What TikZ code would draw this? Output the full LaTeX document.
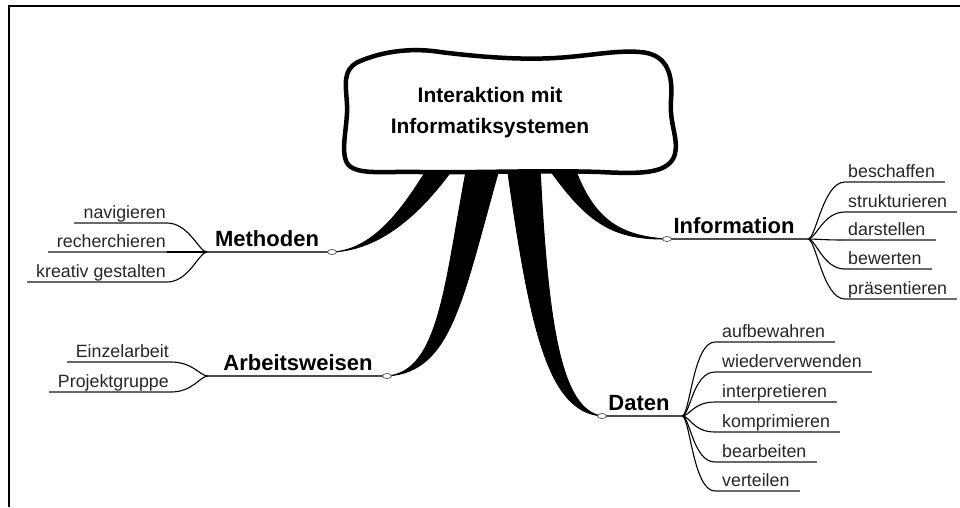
\documentclass[tikz,border=0pt]{standalone}
\usepackage{fontspec}
\setmainfont{Liberation Sans}
\usepackage{tikz}
\usetikzlibrary{calc,shapes.geometric}
\definecolor{lineGray}{RGB}{75,75,75}
\definecolor{underGray}{RGB}{105,105,105}
\tikzset{
  knob/.style={ellipse,draw=lineGray,fill=white,line width=0.7pt,inner sep=0pt,minimum width=9pt,minimum height=5pt},
  branch/.style={lineGray,line width=1.6pt},
  twig/.style={black,line width=1.1pt},
  underl/.style={underGray,line width=1.7pt},
  head/.style={anchor=base,inner sep=0pt,font=\fontsize{22}{26}\selectfont\bfseries},
  leaf/.style={inner sep=0pt,text=black!85,font=\fontsize{17.8}{21}\selectfont}
}

\begin{document}
\begin{tikzpicture}[x=1pt,y=-1pt]
  \useasboundingbox (0,0) rectangle (960,507);
  \draw[line width=1.8pt] (960,6) -- (9,6) -- (9,507);

  \coordinate (mK) at (332,252);
  \coordinate (aK) at (387,376);
  \coordinate (iK) at (667,239);
  \coordinate (dK) at (602,416);
  \coordinate (mJ) at (207,252);
  \coordinate (aJ) at (208,376);
  \coordinate (iJ) at (808,239);
  \coordinate (dJ) at (682,416);

  % thick spokes, tops hidden under the cloud
  \filldraw[line width=0.9pt] (429,166) .. controls (405,205) and (375,250) .. (mK)
    .. controls (380,250) and (420,215) .. (455,166) -- cycle;
  \filldraw[line width=0.9pt] (467,166) .. controls (445,280) and (440,372) .. (aK)
    .. controls (452,372) and (462,300) .. (500,166) -- cycle;
  \filldraw[line width=0.9pt] (507,166) .. controls (530,330) and (548,412) .. (dK)
    .. controls (562,410) and (548,330) .. (540,166) -- cycle;
  \filldraw[line width=0.9pt] (547,166) .. controls (585,220) and (610,240) .. (iK)
    .. controls (615,236) and (592,215) .. (574,166) -- cycle;

  % cloud
  \draw[fill=white,line width=4.5pt,line join=round] (358,62)
    .. controls (385,50) and (415,48) .. (440,52)
    .. controls (480,57) and (520,60) .. (555,58)
    .. controls (590,56) and (615,50) .. (640,52)
    .. controls (668,54) and (673,75) .. (671,100)
    .. controls (669,125) and (680,140) .. (674,157)
    .. controls (666,174) and (640,174) .. (600,172)
    .. controls (540,170) and (470,173) .. (420,172)
    .. controls (385,171) and (355,176) .. (347,163)
    .. controls (340,150) and (348,125) .. (347,105)
    .. controls (346,85) and (342,70) .. (358,62) -- cycle;
  \node[align=center,inner sep=0pt,font=\fontsize{21}{31}\selectfont\bfseries] (root) at (490,113)
    {Interaktion mit\\Informatiksystemen};

  \draw[branch] (mK) -- (mJ);
  \draw[branch] (aK) -- (aJ);
  \draw[branch] (iK) -- (iJ);
  \draw[branch] (dK) -- (dJ);
  \node[knob] (mKn) at (mK) {};
  \node[knob] (aKn) at (aK) {};
  \node[knob] (iKn) at (iK) {};
  \node[knob] (dKn) at (dK) {};

  \node[head] (mT) at (267,246) {Methoden};
  \node[head] (aT) at (298,370) {Arbeitsweisen};
  \node[head] (iT) at (734,233) {Information};
  \node[head] (dT) at (639,410) {Daten};

  % leaves
  \foreach \nm/\txt/\yy in {m1/navigieren/223, m2/recherchieren/252, m3/kreativ gestalten/282}{
    \node[leaf,anchor=base east] (\nm) at (166,\yy-4.5) {\txt};
    \draw[underl] ($(\nm.base west)+(-9,4.5)$) -- (167,\yy);
    \draw[twig] (167,\yy) .. controls +(22,0) and +(-8,0) .. (mJ);
  }
  \foreach \nm/\txt/\yy in {a1/Einzelarbeit/362, a2/Projektgruppe/392}{
    \node[leaf,anchor=base east] (\nm) at (169,\yy-4.5) {\txt};
    \draw[underl] ($(\nm.base west)+(-9,4.5)$) -- (171,\yy);
    \draw[twig] (171,\yy) .. controls +(22,0) and +(-8,0) .. (aJ);
  }
  \foreach \nm/\txt/\yy in {i1/beschaffen/182, i2/strukturieren/212, i3/darstellen/240,
                           i4/bewerten/269, i5/präsentieren/299}{
    \node[leaf,anchor=base west] (\nm) at (848,\yy-4.5) {\txt};
    \draw[twig] (iJ) .. controls +(8,0) and +(-22,0) .. (845,\yy);
    \draw[underl] (845,\yy) -- ($(\nm.base east)+(10,4.5)$);
  }
  \foreach \nm/\txt/\yy in {d1/aufbewahren/342, d2/wiederverwenden/372, d3/interpretieren/402,
                           d4/komprimieren/432, d5/bearbeiten/462, d6/verteilen/491}{
    \node[leaf,anchor=base west] (\nm) at (722,\yy-4.5) {\txt};
    \draw[twig] (dJ) .. controls +(8,0) and +(-22,0) .. (715,\yy);
    \draw[underl] (715,\yy) -- ($(\nm.base east)+(10,4.5)$);
  }
\end{tikzpicture}
\end{document}
